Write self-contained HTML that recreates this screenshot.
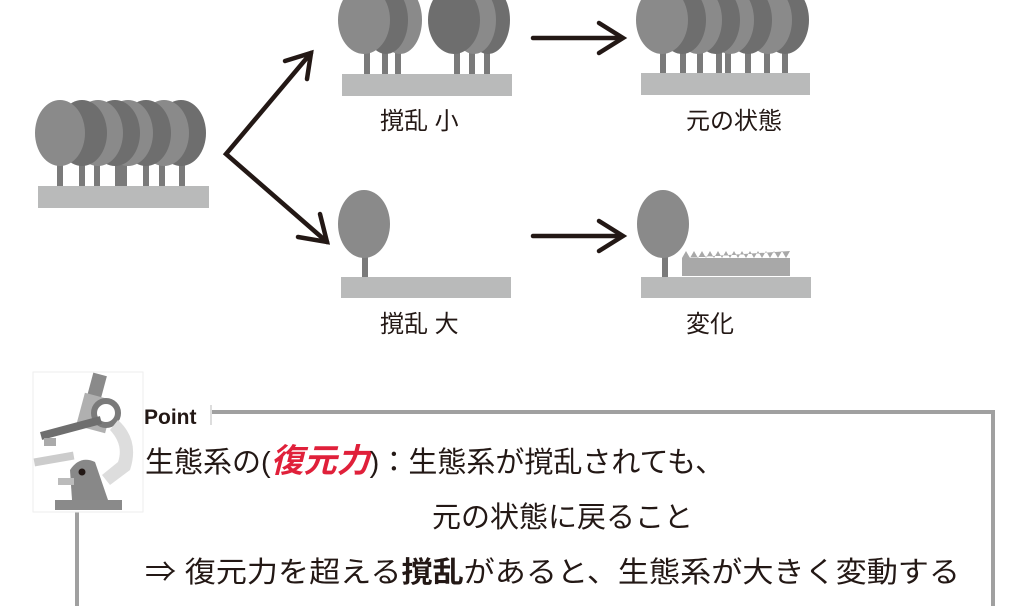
<!DOCTYPE html>
<html><head><meta charset="utf-8"><style>
html,body{margin:0;padding:0;background:#fff;width:1024px;height:606px;overflow:hidden}
text{font-family:"Liberation Sans","Noto Sans CJK JP",sans-serif;fill:#231815}
</style></head><body>
<svg width="1024" height="606" viewBox="0 0 1024 606" xmlns="http://www.w3.org/2000/svg">
<g fill="#b9baba">
<rect x="38" y="186" width="171" height="22"/>
<rect x="342" y="74" width="170" height="22"/>
<rect x="641" y="73" width="169" height="22"/>
<rect x="341" y="277" width="170" height="21"/>
<rect x="641" y="277" width="170" height="21"/>
</g>
<g>
<g fill="#7a7a7a">
<rect x="179" y="150" width="6" height="36"/><rect x="159" y="150" width="6" height="36"/><rect x="143" y="150" width="6" height="36"/>
<rect x="121" y="150" width="6" height="36"/><rect x="115" y="150" width="6" height="36"/><rect x="94" y="150" width="6" height="36"/>
<rect x="79" y="150" width="6" height="36"/><rect x="57" y="150" width="6" height="36"/></g>
<ellipse cx="181" cy="133" rx="25" ry="33" fill="#6e6e6e"/>
<ellipse cx="164" cy="133" rx="25" ry="33" fill="#8a8a8a"/>
<ellipse cx="146" cy="133" rx="25" ry="33" fill="#6e6e6e"/>
<ellipse cx="128" cy="133" rx="25" ry="33" fill="#8a8a8a"/>
<ellipse cx="115" cy="133" rx="25" ry="33" fill="#6e6e6e"/>
<ellipse cx="98" cy="133" rx="25" ry="33" fill="#8a8a8a"/>
<ellipse cx="82" cy="133" rx="25" ry="33" fill="#6e6e6e"/>
<ellipse cx="60" cy="133" rx="25" ry="33" fill="#8a8a8a"/>
</g>
<g>
<g fill="#7a7a7a"><rect x="364" y="40" width="6" height="34"/><rect x="382" y="40" width="6" height="34"/><rect x="395" y="40" width="6" height="34"/>
<rect x="454" y="40" width="6" height="34"/><rect x="469" y="40" width="6" height="34"/><rect x="484" y="40" width="6" height="34"/></g>
<ellipse cx="400" cy="20" rx="22" ry="34" fill="#8a8a8a"/>
<ellipse cx="386" cy="20" rx="22" ry="34" fill="#6e6e6e"/>
<ellipse cx="364" cy="20" rx="26" ry="34" fill="#8a8a8a"/>
<ellipse cx="488" cy="20" rx="22" ry="34" fill="#6e6e6e"/>
<ellipse cx="474" cy="20" rx="22" ry="34" fill="#8a8a8a"/>
<ellipse cx="454" cy="20" rx="26" ry="34" fill="#6e6e6e"/>
</g>
<g>
<g fill="#7a7a7a"><rect x="660" y="40" width="6" height="33"/><rect x="680" y="40" width="6" height="33"/><rect x="697" y="40" width="6" height="33"/>
<rect x="716" y="40" width="6" height="33"/><rect x="725" y="40" width="6" height="33"/><rect x="745" y="40" width="6" height="33"/>
<rect x="764" y="40" width="6" height="33"/><rect x="782" y="40" width="6" height="33"/></g>
<ellipse cx="785" cy="20" rx="24" ry="34" fill="#6e6e6e"/>
<ellipse cx="768" cy="20" rx="24" ry="34" fill="#8a8a8a"/>
<ellipse cx="748" cy="20" rx="24" ry="34" fill="#6e6e6e"/>
<ellipse cx="730" cy="20" rx="24" ry="34" fill="#8a8a8a"/>
<ellipse cx="716" cy="20" rx="24" ry="34" fill="#6e6e6e"/>
<ellipse cx="698" cy="20" rx="24" ry="34" fill="#8a8a8a"/>
<ellipse cx="682" cy="20" rx="24" ry="34" fill="#6e6e6e"/>
<ellipse cx="662" cy="20" rx="26" ry="34" fill="#8a8a8a"/>
</g>
<rect x="362" y="240" width="6" height="37" fill="#7a7a7a"/>
<ellipse cx="364" cy="224" rx="26" ry="34" fill="#8a8a8a"/>
<rect x="662" y="240" width="6" height="37" fill="#7a7a7a"/>
<ellipse cx="663" cy="224" rx="26" ry="34" fill="#8a8a8a"/>
<rect x="682" y="258" width="108" height="18" fill="#a8a8a8"/>
<path d="M682 258 l4-7 4 7 4-7 4 7 4-7 4 7 4-7 4 7 4-7 4 7 4-7 4 7 4-7 4 7 4-7 4 7 4-7 4 7 4-7 4 7 4-7 4 7 4-7 4 7 4-7 4 7 4-7z" fill="#a8a8a8"/>
<g stroke="#231815" stroke-width="4.5" fill="none" stroke-linecap="round" stroke-linejoin="miter">
<polyline points="311,53 226,154 327,242"/>
<polyline points="285,61 311,53 307,79"/>
<polyline points="298,237 327,242 320,214"/>
<line x1="533" y1="38" x2="622" y2="38"/>
<polyline points="599,23 623,38 599,53"/>
<line x1="533" y1="236" x2="622" y2="236"/>
<polyline points="599,221 623,236 599,251"/>
</g>
<text x="380" y="129" font-size="24">撹乱 小</text>
<text x="686" y="129" font-size="24">元の状態</text>
<text x="380" y="332" font-size="24">撹乱 大</text>
<text x="686" y="332" font-size="24">変化</text>
<g stroke="#a0a0a0" stroke-width="4" fill="none">
<polyline points="212,412 993,412 993,606"/>
<line x1="77" y1="510" x2="77" y2="606"/>
</g>
<g>
<rect x="33" y="372" width="110" height="140" fill="#fff" stroke="#eee" stroke-width="1"/>
<rect x="90" y="374" width="14" height="24" fill="#8a8a8a" transform="rotate(15 97 386)"/>
<rect x="80" y="396" width="30" height="34" fill="#b0b0b0" transform="rotate(15 95 413)"/>
<circle cx="106" cy="413" r="12" fill="#fff" stroke="#7a7a7a" stroke-width="6"/>
<path d="M118 420 Q140 440 130 470 L110 485 L102 475 L118 462 Q124 445 110 430z" fill="#ddd"/>
<rect x="40" y="424" width="62" height="8" fill="#6e6e6e" transform="rotate(-15 71 428)"/>
<rect x="44" y="438" width="12" height="8" fill="#aaa"/>
<rect x="34" y="455" width="40" height="8" fill="#ccc" transform="rotate(-10 54 459)"/>
<path d="M70 470 Q80 455 95 462 L108 500 L72 500z" fill="#888"/>
<circle cx="82" cy="472" r="3.5" fill="#231815"/>
<rect x="58" y="478" width="16" height="7" fill="#bbb"/>
<rect x="55" y="500" width="67" height="10" fill="#8a8a8a"/>
</g>
<text x="144" y="424" font-size="21" font-weight="bold">Point</text>
<rect x="210" y="405" width="2" height="20" fill="#ddd"/>
<text x="145" y="472" font-size="29">生態系の(<tspan fill="#e0203a" font-style="italic" font-weight="bold" font-size="33">復元力</tspan>)：生態系が撹乱されても、</text>
<text x="432" y="527" font-size="29">元の状態に戻ること</text>
<text x="145" y="582" font-size="29" textLength="815" lengthAdjust="spacingAndGlyphs">⇒ 復元力を超える<tspan font-weight="bold">撹乱</tspan>があると、生態系が大きく変動する</text>
</svg>
</body></html>
